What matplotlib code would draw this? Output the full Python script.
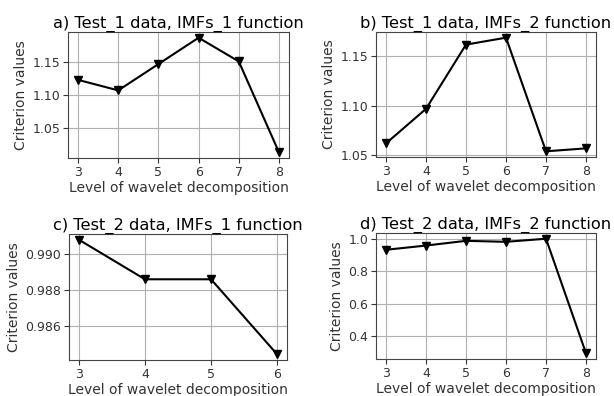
import matplotlib
matplotlib.use("Agg")
import matplotlib.pyplot as plt

xlabel = "Level of wavelet decomposition"
ylabel = "Criterion values"

titles = ["a) Test_1 data, IMFs_1 function", "b) Test_1 data, IMFs_2 function",
          "c) Test_2 data, IMFs_1 function", "d) Test_2 data, IMFs_2 function"]

levels_a = [3, 4, 5, 6, 7, 8]
values_a = [1.123, 1.107, 1.147, 1.187, 1.151, 1.013]

levels_b = [3, 4, 5, 6, 7, 8]
values_b = [1.062, 1.097, 1.162, 1.169, 1.054, 1.057]

levels_c = [3, 4, 5, 6]
values_c = [0.9908, 0.9886, 0.9886, 0.98443]

levels_d = [3, 4, 5, 6, 7, 8]
values_d = [0.932, 0.958, 0.987, 0.981, 1.0, 0.295]

yticks_a = [1.05, 1.10, 1.15]
yticks_b = [1.05, 1.10, 1.15]
yticks_c = [0.986, 0.988, 0.990]
yticks_d = [0.4, 0.6, 0.8, 1.0]

fig = plt.figure(figsize=(6.14, 3.96), dpi=100)
rects = [
    (68/614, 1-158/396, 221/614, 126/396),
    (376/614, 1-157/396, 220/614, 125/396),
    (69/614, 1-360/396, 218/614, 126/396),
    (376/614, 1-359/396, 220/614, 126/396),
]
data = [(levels_a, values_a, yticks_a, "{:.2f}"),
        (levels_b, values_b, yticks_b, "{:.2f}"),
        (levels_c, values_c, yticks_c, "{:.3f}"),
        (levels_d, values_d, yticks_d, "{:.1f}")]

for rect, title, (xs, ys, yt, fmt) in zip(rects, titles, data):
    ax = fig.add_axes(rect)
    ax.plot(xs, ys, color="black", marker="v", markersize=6, linewidth=1.5)
    ax.set_title(title, fontsize=11.7, pad=3)
    ax.set_xlabel(xlabel, fontsize=10, color="#333333", labelpad=2)
    ax.set_ylabel(ylabel, fontsize=10, color="#333333", labelpad=3)
    ax.set_xticks(xs)
    ax.set_yticks(yt)
    ax.set_yticklabels([fmt.format(v) for v in yt])
    ax.tick_params(labelsize=9, colors="#333333", length=3.5, pad=2)
    ax.grid(True, color="#b0b0b0", linewidth=0.8)
    for s in ax.spines.values():
        s.set_color("#444444")

fig.savefig("out.png", dpi=100)
